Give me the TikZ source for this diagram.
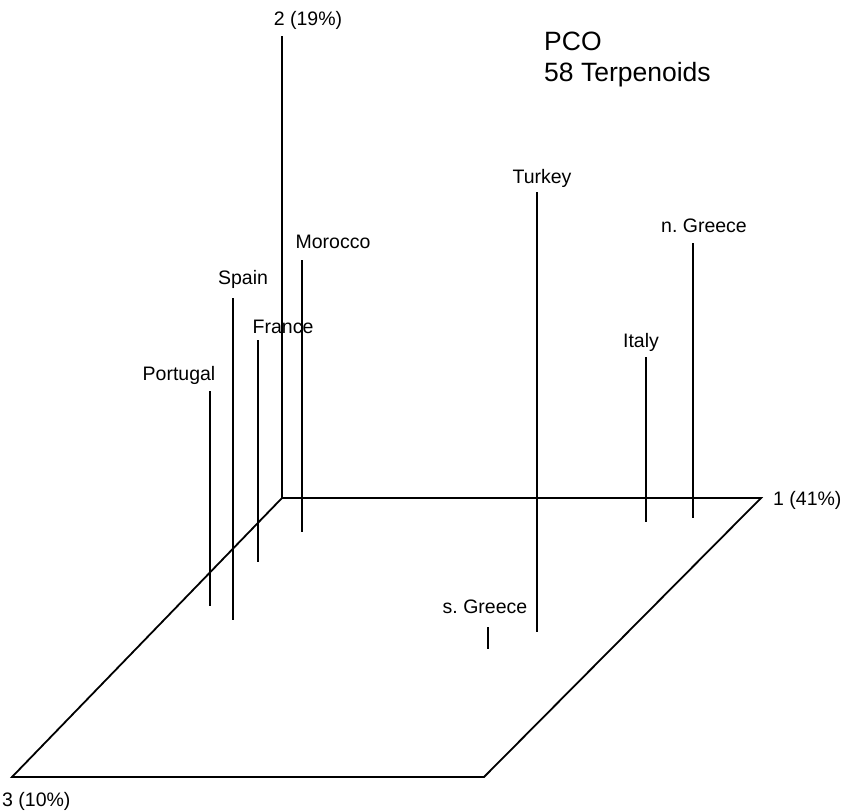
\documentclass[tikz,border=0pt]{standalone}
\usepackage{fontspec}
\setmainfont{Liberation Sans}
\usetikzlibrary{positioning}

\begin{document}
\begin{tikzpicture}[x=1pt,y=-1pt,font=\fontsize{19.5}{23}\selectfont,
  axis/.style={line width=1.8pt,line join=miter},
  stem/.style={line width=1.7pt},
  lbl/.style={anchor=base,inner sep=0pt}]
  \useasboundingbox (0,0) rectangle (842,811);

  % Helper macro: one sample. #1 name, #2 x, #3 top y, #4 bottom y, #5 label x, #6 label baseline, #7 text
  \newcommand{\sample}[7]{%
    \coordinate (#1top) at (#2,#3);
    \coordinate (#1bot) at (#2,#4);
    \draw[stem] (#1top) -- (#1bot);
    \node[lbl] (#1) at (#5,#6) {#7};
  }

  % base plane spanned by axes 1 and 3, axis 2 upright
  \coordinate (o) at (282,498);
  \coordinate (a1) at (761,498);
  \coordinate (a3) at (12,777);
  \coordinate (c) at (484,777);
  \coordinate (a2) at (282,36);
  \draw[axis] (o) -- (a1) -- (c) -- (a3) -- cycle;
  \draw[axis] (o) -- (a2);

  \node[lbl,anchor=base west] (l1) at (773,505) {1 (41\%)};
  \node[lbl] (l2) at (308,25) {2 (19\%)};
  \node[lbl,anchor=base west] (l3) at (2,806) {3 (10\%)};

  \sample{por}{210}{391}{606}{179}{380}{Portugal}
  \sample{spa}{233}{298}{620}{243}{284}{Spain}
  \sample{fra}{258}{340}{562}{283}{333}{France}
  \sample{mor}{302}{260}{532}{333}{248}{Morocco}
  \sample{tur}{537}{192}{632}{542}{183}{Turkey}
  \sample{sgr}{488}{627}{649}{485}{613}{s.\ Greece}
  \sample{ita}{646}{357}{522}{641}{347}{Italy}
  \sample{ngr}{693}{243}{518}{704}{232}{n.\ Greece}

  \node[lbl,anchor=base west,font=\fontsize{26.5}{31}\selectfont] (title) at (544,50) {PCO};
  \node[lbl,anchor=base west,font=\fontsize{26.5}{31}\selectfont] (sub) at (544,81) {58 Terpenoids};
\end{tikzpicture}
\end{document}
